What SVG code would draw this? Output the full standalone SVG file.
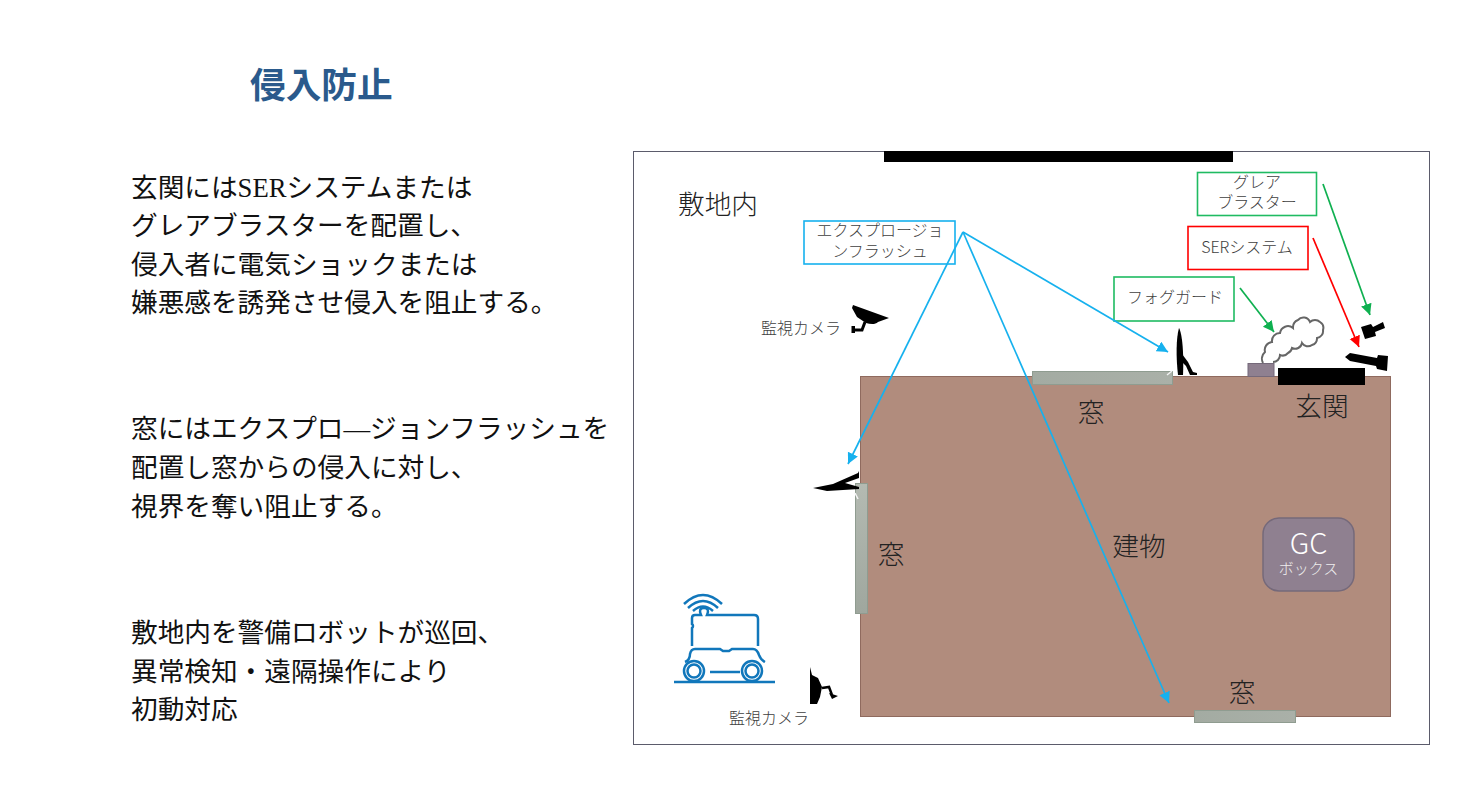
<svg xmlns="http://www.w3.org/2000/svg" width="1461" height="806" viewBox="0 0 1461 806">
<style>
text{font-family:"Noto Sans CJK JP","Noto Sans",sans-serif}
.body{font-family:"Liberation Serif","Noto Sans CJK JP",serif;font-size:26.67px;fill:#111}
.lbl{font-size:16px;fill:#404040;text-anchor:middle;font-weight:300}
.big{font-size:26.67px;fill:#222;text-anchor:middle;font-weight:300}
.box{fill:#fff;stroke-width:1.6}
.win{stroke:#8f9c90;stroke-width:1}
.blk{fill:#000}
.c{fill:none;stroke-width:1.7}
.tick{stroke:#f4f4f4;stroke-width:1.5;fill:none}
</style>
<defs>
<linearGradient id="gv" x1="0" y1="0" x2="0" y2="1"><stop offset="0" stop-color="#b4bab2"/><stop offset="1" stop-color="#9fa79e"/></linearGradient>
<linearGradient id="gh" x1="0" y1="0" x2="1" y2="0"><stop offset="0" stop-color="#a3aba2"/><stop offset="1" stop-color="#aab0a8"/></linearGradient>
<marker id="ab" markerUnits="userSpaceOnUse" markerWidth="13" markerHeight="12" refX="11" refY="5.500" orient="auto"><path d="M0 0L11 5.500L0 11Z" fill="#16b1ee"/></marker>
<marker id="ag" markerUnits="userSpaceOnUse" markerWidth="13" markerHeight="12" refX="11" refY="5.500" orient="auto"><path d="M0 0L11 5.500L0 11Z" fill="#0fb050"/></marker>
<marker id="ar" markerUnits="userSpaceOnUse" markerWidth="13" markerHeight="12" refX="11" refY="5.500" orient="auto"><path d="M0 0L11 5.500L0 11Z" fill="#ff0000"/></marker>
</defs>
<rect width="1461" height="806" fill="#fff"/>
<text id="title" x="250" y="98" font-size="35.7" font-weight="700" fill="#2a5a8c">侵入防止</text>
<g id="text-entrance">
<text class="body" x="131" y="197">玄関にはSERシステムまたは</text>
<text class="body" x="131" y="235">グレアブラスターを配置し、</text>
<text class="body" x="131" y="274">侵入者に電気ショックまたは</text>
<text class="body" x="131" y="312">嫌悪感を誘発させ侵入を阻止する。</text>
</g>
<g id="text-window">
<text class="body" x="131" y="438">窓にはエクスプロ―ジョンフラッシュを</text>
<text class="body" x="131" y="477">配置し窓からの侵入に対し、</text>
<text class="body" x="131" y="516">視界を奪い阻止する。</text>
</g>
<g id="text-robot">
<text class="body" x="131" y="642">敷地内を警備ロボットが巡回、</text>
<text class="body" x="131" y="681">異常検知・遠隔操作により</text>
<text class="body" x="131" y="719">初動対応</text>
</g>
<g id="site">
<rect x="633.500" y="151.500" width="796" height="593" fill="#fff" stroke="#5b5b6b" stroke-width="1"/>
<rect x="884" y="151" width="349" height="11" class="blk"/>
<text class="big" x="718" y="214">敷地内</text>
</g>
<g id="building">
<rect x="860.500" y="376.500" width="530" height="340" fill="#b18c7d" stroke="#8f6a5e" stroke-width="1"/>
<text class="big" x="1139" y="556">建物</text>
</g>
<g id="window-top"><rect x="1032.500" y="371.500" width="140" height="13" fill="url(#gh)" class="win"/><path class="tick" d="M1167 375L1172 371"/><text class="big" x="1091" y="422">窓</text></g>
<g id="window-left"><rect x="855.500" y="483.500" width="12" height="130" fill="url(#gv)" class="win"/><path class="tick" d="M855 493L858 499"/><text class="big" x="891" y="564">窓</text></g>
<g id="window-bottom"><rect x="1194.500" y="710.500" width="101" height="12" fill="url(#gh)" class="win"/><text class="big" x="1242" y="702">窓</text></g>
<g id="entrance"><rect x="1278" y="368" width="87" height="17" class="blk"/><text class="big" x="1322" y="416">玄関</text></g>
<g id="gc-box">
<rect x="1263" y="518" width="91" height="73" rx="16" fill="#8f8090" stroke="#75697a" stroke-width="1.5"/>
<text x="1308.500" y="554" font-size="29" fill="#fff" text-anchor="middle" font-weight="300">GC</text>
<text x="1308.500" y="574" font-size="15" fill="#eee" text-anchor="middle" font-weight="300">ボックス</text>
</g>
<g id="label-flash"><rect x="804" y="221" width="151" height="43" class="box" stroke="#16b1ee"/>
<text class="lbl" x="880" y="236">エクスプロージョ</text><text class="lbl" x="880" y="257">ンフラッシュ</text></g>
<g id="label-glare"><rect x="1197.500" y="172.500" width="119" height="43" class="box" stroke="#1fbb62"/>
<text class="lbl" x="1257" y="188">グレア</text><text class="lbl" x="1257" y="208">ブラスター</text></g>
<g id="label-ser"><rect x="1188" y="226.500" width="120" height="43" class="box" stroke="#f00"/>
<text class="lbl" x="1247" y="253">SERシステム</text></g>
<g id="label-fog"><rect x="1114" y="277" width="120" height="44" class="box" stroke="#1fbb62"/>
<text class="lbl" x="1175" y="303">フォグガード</text></g>
<g id="camera-top">
<path class="blk" d="M853 305L889 318L878 322C875 325 870 324 866 323L857 317L852 308Z"/>
<path d="M865 322L862 330H853" fill="none" stroke="#000" stroke-width="3"/><rect x="851.500" y="326" width="3.500" height="7" class="blk"/>
<text class="lbl" x="801" y="334">監視カメラ</text>
</g>
<g id="camera-bottom">
<path class="blk" d="M810 667L812 675L818 678L822 687L820 697L817 704H810Z"/>
<path d="M822 688L829 687L832 695" fill="none" stroke="#000" stroke-width="2.500"/><path class="blk" d="M829 693L838 696L832 699Z"/>
<text class="lbl" x="769" y="724">監視カメラ</text>
</g>
<g id="flash-top">
<path class="blk" d="M1179 328C1182 333 1184 352 1183 375H1178C1176 358 1176 338 1179 328Z"/>
<path class="blk" d="M1182 354L1188 362L1193 372L1197 373V375H1190L1186 366L1182 362Z"/>
</g>
<g id="flash-left"><path class="blk" d="M813 488L833 484L858 473L859 471V478L845 483L859 487V489L827 491Z"/></g>
<g id="fog-guard">
<rect x="1248" y="363.500" width="26" height="13" fill="#8f8090" stroke="#75697a" stroke-width="1"/>
<path d="M1263 363A9 9 0 0 1 1265 352A8 8 0 0 1 1272 342A8 8 0 0 1 1280 333A8 8 0 0 1 1293 328A8 8 0 0 1 1298 320A7 7 0 0 1 1310 322A7 7 0 0 1 1320 322A7 7 0 0 1 1323 330A7 7 0 0 1 1317 338A7 7 0 0 1 1312 345A7 7 0 0 1 1302 343A7 7 0 0 1 1292 348A7 7 0 0 1 1288 353A7 7 0 0 1 1280 355A7 7 0 0 1 1273 362" fill="#fff" stroke="#666" stroke-width="2"/>
</g>
<g id="glare-blaster"><path class="blk" d="M1361 327L1371 324L1373 327L1383 322L1385 328L1375 332L1376 336L1365 339Z"/></g>
<g id="ser-device"><path class="blk" d="M1345 357L1350 353L1377 358L1378 355L1388 356L1387 371L1377 369L1376 366L1350 361Z"/></g>
<g id="robot" fill="none" stroke="#1177bb" stroke-width="2.500">
<path d="M674 682H775"/>
<path d="M692 646V628A2.500 2.500 0 0 0 692 624V618Q692 615 695 615H701Q698 608 704 608Q710 608 707 615H754Q758 615 758 619V646"/>
<path d="M685 662Q690 660 690 654Q691 649 695 649H720L723 651H729L732 649H753Q757 649 759 655Q761 660 765 662"/>
<path d="M710 672H740"/>
<circle cx="694" cy="671" r="10"/><circle cx="694" cy="671" r="6.500"/>
<circle cx="752" cy="671" r="10"/><circle cx="752" cy="671" r="6.500"/>
<path d="M684 604Q703 586 722 604M688 608Q703 594 718 608M693 611Q703 602 713 611"/>
</g>
<g id="connectors">
<path class="c" stroke="#16b1ee" d="M963 232L848 464" marker-end="url(#ab)"/>
<path class="c" stroke="#16b1ee" d="M963 232L1168 352" marker-end="url(#ab)"/>
<path class="c" stroke="#16b1ee" d="M963 232L1169 703" marker-end="url(#ab)"/>
<path class="c" stroke="#0fb050" d="M1323 184L1370 315" marker-end="url(#ag)"/>
<path class="c" stroke="#ff0000" d="M1313 238L1359 347" marker-end="url(#ar)"/>
<path class="c" stroke="#0fb050" d="M1240 288L1274 332" marker-end="url(#ag)"/>
</g>
</svg>
